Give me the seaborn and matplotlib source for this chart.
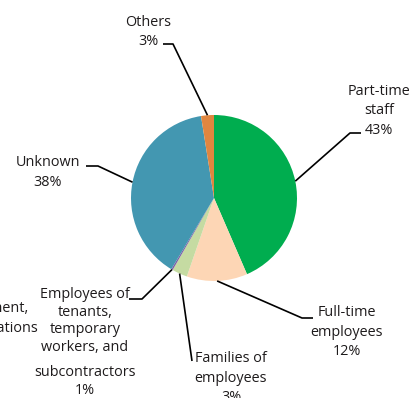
import numpy as np
import matplotlib
matplotlib.use("Agg")
import matplotlib.pyplot as plt
import seaborn as sns

# ---- data (shares, labels as printed) ----
categories = ["Part-time\nstaff", "Full-time\nemployees", "Families of\nemployees",
              "Employees of\ntenants,\ntemporary\nworkers, and", "Government,\norganizations",
              "Unknown", "Others"]
shares = [43.5, 11.8, 3.0, 0.3, 0.0, 38.9, 2.5]
pct_labels = ["43%", "12%", "3%", "1%", "", "38%", "3%"]
colors = ["#00AD4F", "#FDD6B5", "#C5DBA2", "#7C5FA8", "#7C5FA8", "#4397B1", "#E0863F"]

sns.set_theme(style="white")
plt.rcParams["font.family"] = ["Open Sans", "DejaVu Sans"]

W, H = 414, 398
fig = plt.figure(figsize=(W / 100, H / 100), dpi=100)
ax = fig.add_axes([0, 0, 1, 1])

def Y(py):
    return H - py

cx, cy, R = 214, Y(198), 83
wedges, _ = ax.pie(shares, colors=colors, startangle=90, counterclock=False,
                   center=(cx, cy), radius=R, wedgeprops=dict(linewidth=0))
ax.set_xlim(0, W)
ax.set_ylim(0, H)
ax.set_aspect("equal")
ax.axis("off")

txt_color = "#1E1B1C"
fs = 10.4

def anchor(i):
    w = wedges[i]
    t = np.deg2rad((w.theta1 + w.theta2) / 2)
    return cx + R * np.cos(t), cy + R * np.sin(t)

def leader(i, pts):
    ax_, ay_ = anchor(i)
    xs = [p[0] for p in pts] + [ax_]
    ys = [Y(p[1]) for p in pts] + [ay_]
    ax.plot(xs, ys, color="black", lw=1.2, solid_capstyle="butt", zorder=3)

def label(x, y, s, ls=1.38):
    ax.text(x, Y(y), s, ha="center", va="center", fontsize=fs, color=txt_color,
            linespacing=ls, multialignment="center")

# Part-time
label(379, 111, categories[0] + "\n" + pct_labels[0])
leader(0, [(361, 133), (350, 133)])
# Full-time
label(347, 332, categories[1] + "\n" + pct_labels[1])
leader(1, [(313, 318), (302, 318)])
# Families
label(231, 378, categories[2] + "\n" + pct_labels[2])
leader(2, [(192, 361)])
# Employees of tenants...
label(85, 321, categories[3], ls=1.24)
label(85, 381.5, "subcontractors\n" + pct_labels[3], ls=1.3)
leader(3, [(129, 299), (142, 299)])
# cut-off category at left edge
l1, l2 = categories[4].split("\n")
ax.text(28, Y(308), l1, ha="right", va="center", fontsize=fs, color=txt_color)
ax.text(38, Y(328), l2, ha="right", va="center", fontsize=fs, color=txt_color)
# Unknown
label(48, 172.5, categories[5] + "\n" + pct_labels[5])
leader(5, [(86, 166), (98, 166)])
# Others
label(148, 32, categories[6] + "\n" + pct_labels[6])
leader(6, [(163, 44), (173, 44)])

fig.savefig("out.png", dpi=100, facecolor="white")
